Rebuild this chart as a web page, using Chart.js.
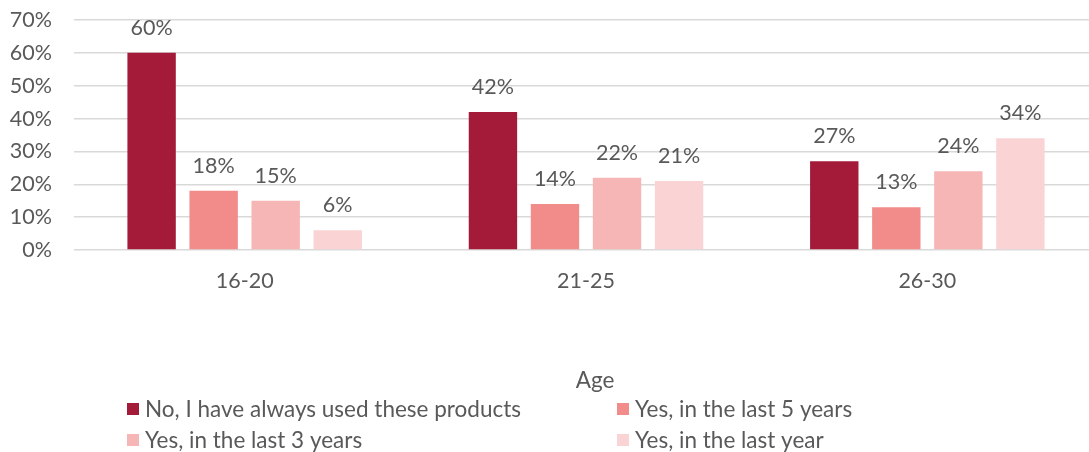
<!DOCTYPE html>
<html>
<head>
<meta charset="utf-8">
<script src="https://cdn.jsdelivr.net/npm/chart.js@4"></script>
<style>
    html, body { margin: 0; padding: 0; background: #fff; overflow: hidden; }
    #wrap { width: 1089px; height: 452px; overflow: hidden; }
</style>
</head>
<body>
<div id="wrap"><canvas id="ageChart" width="1100" height="452"></canvas></div>
<script>
// Age groups and answer shares (%)
const ageGroups = ['16-20', '21-25', '26-30'];
const seriesNames = [
    'No, I have always used these products',
    'Yes, in the last 5 years',
    'Yes, in the last 3 years',
    'Yes, in the last year'
];
const alwaysUsed = [60, 42, 27];
const last5Years = [18, 14, 13];
const last3Years = [15, 22, 24];
const lastYear = [6, 21, 34];
const yTicks = [0, 10, 20, 30, 40, 50, 60, 70];

const seriesColors = ['#A31B38', '#F28C8B', '#F7B6B6', '#FAD3D5'];
const textColor = '#595959';
const fontFamily = 'Lato, "Open Sans", sans-serif';

// value labels above each bar
const barLabels = {
    id: 'barLabels',
    afterDatasetsDraw(chart) {
        const ctx = chart.ctx;
        ctx.save();
        ctx.fillStyle = textColor;
        ctx.font = '21.5px ' + fontFamily;
        ctx.textAlign = 'center';
        ctx.textBaseline = 'alphabetic';
        chart.data.datasets.forEach((ds, i) => {
            chart.getDatasetMeta(i).data.forEach((bar, j) => {
                ctx.fillText(ds.data[j] + '%', bar.x, bar.y - 18);
            });
        });
        ctx.restore();
    }
};

// axis title and two-column legend underneath
const bottomLegend = {
    id: 'bottomLegend',
    afterDraw(chart) {
        const ctx = chart.ctx;
        ctx.save();
        ctx.fillStyle = textColor;
        ctx.font = '22.5px ' + fontFamily;
        ctx.textBaseline = 'middle';
        ctx.textAlign = 'center';
        ctx.fillText('Age', 595, 381);

        ctx.textAlign = 'left';
        const colX = [127, 617];
        const rowY = [409, 440];
        chart.data.datasets.forEach((ds, i) => {
            const x = colX[i % 2];
            const y = rowY[Math.floor(i / 2)];
            ctx.fillStyle = ds.backgroundColor;
            ctx.fillRect(x, y - 6, 12, 12);
            ctx.fillStyle = textColor;
            ctx.fillText(ds.label, x + 18, y + 1);
        });
        ctx.restore();
    }
};

const ctx = document.getElementById('ageChart').getContext('2d');
new Chart(ctx, {
    type: 'bar',
    data: {
        labels: ageGroups,
        datasets: [alwaysUsed, last5Years, last3Years, lastYear].map((values, i) => ({
            label: seriesNames[i],
            data: values,
            backgroundColor: seriesColors[i],
            borderWidth: 0,
            categoryPercentage: 0.727,
            barPercentage: 0.78
        }))
    },
    options: {
        responsive: false,
        animation: false,
        layout: {
            padding: { top: 20, right: 2, bottom: 0, left: 0 }
        },
        plugins: {
            legend: { display: false },
            tooltip: { enabled: false }
        },
        scales: {
            x: {
                grid: { display: false },
                border: { display: false },
                ticks: {
                    color: textColor,
                    font: { family: fontFamily, size: 21.5 },
                    padding: 10
                },
                afterFit(scale) {
                    scale.height = 202;
                    scale.paddingLeft = 0;
                    scale.paddingRight = 0;
                }
            },
            y: {
                min: 0,
                max: 70,
                afterBuildTicks(scale) {
                    scale.ticks = yTicks.map(v => ({ value: v }));
                },
                grid: {
                    color: '#D9D9D9',
                    lineWidth: 1.5,
                    drawTicks: false
                },
                border: { display: false },
                ticks: {
                    color: textColor,
                    font: { family: fontFamily, size: 21.5 },
                    padding: 22,
                    callback: v => v + '%'
                },
                afterFit(scale) {
                    scale.width = 74;
                    scale.paddingTop = 0;
                    scale.paddingBottom = 0;
                }
            }
        }
    },
    plugins: [barLabels, bottomLegend]
});
</script>
</body>
</html>
